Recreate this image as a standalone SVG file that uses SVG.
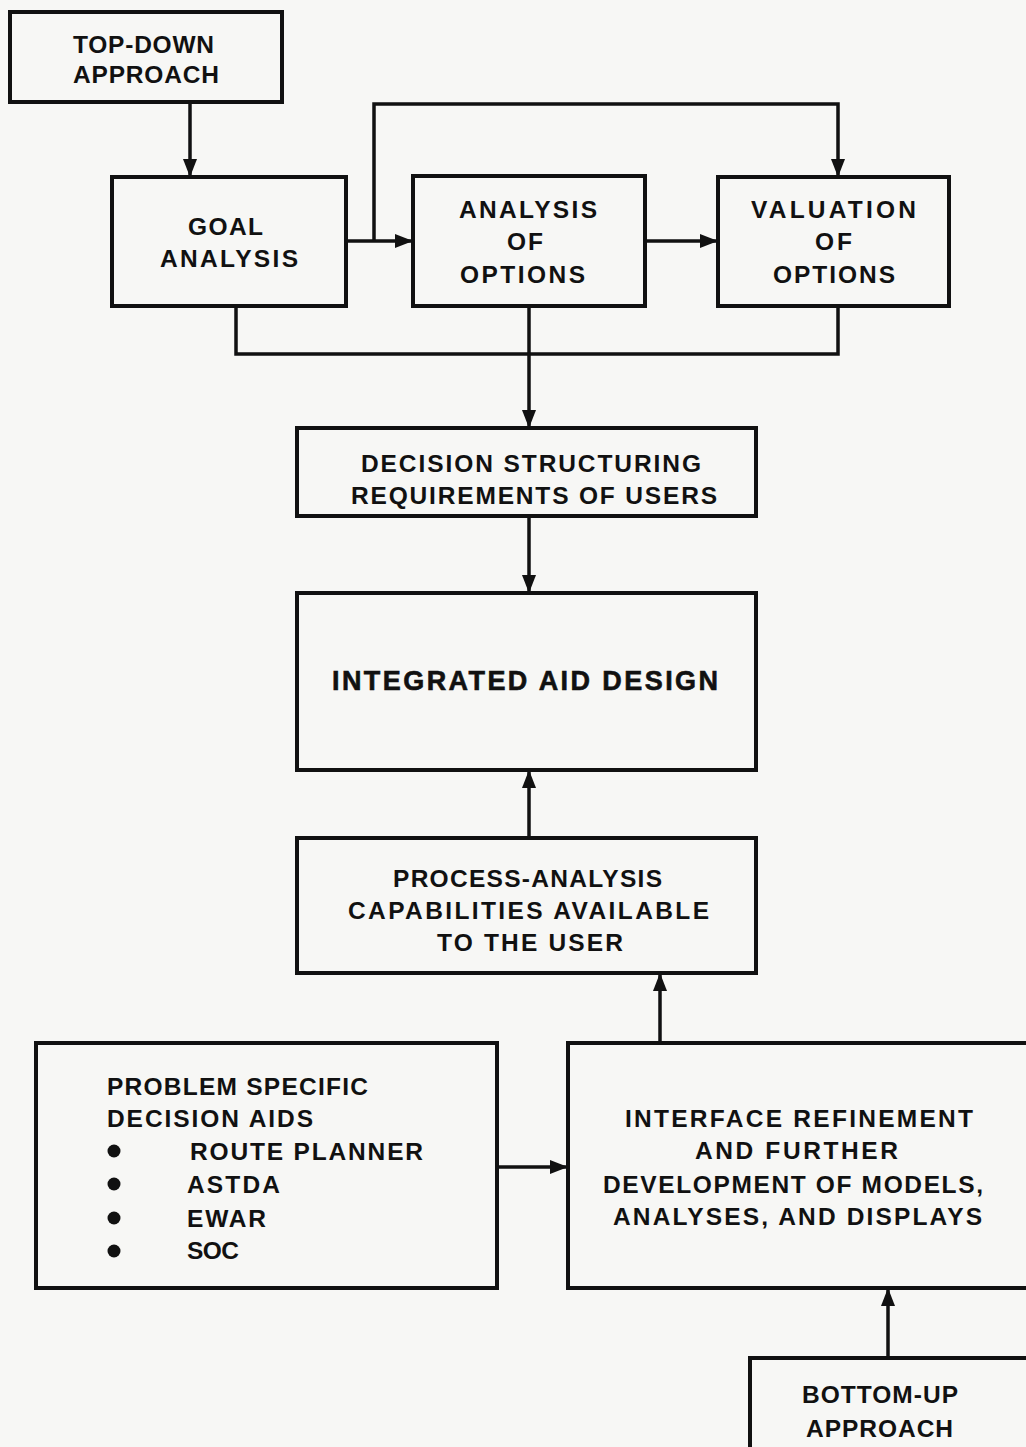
<svg xmlns="http://www.w3.org/2000/svg" width="1026" height="1447" viewBox="0 0 1026 1447">
<style>
.box{fill:none;stroke:#111;stroke-width:4}
.ln{fill:none;stroke:#111;stroke-width:3.5}
text{font-family:"Liberation Sans",Arial,sans-serif;font-weight:bold;font-size:24.5px;fill:#111}
</style>
<defs>
<marker id="ah" viewBox="0 0 18 14" refX="18" refY="7" markerWidth="18" markerHeight="14" markerUnits="userSpaceOnUse" orient="auto">
<path d="M0,0 L18,7 L0,14 Z" fill="#111"/>
</marker>
</defs>
<rect width="1026" height="1447" fill="#f7f7f5"/>
<g id="connectors">
<line class="ln" x1="190" y1="102" x2="190" y2="177" marker-end="url(#ah)"/>
<line class="ln" x1="346" y1="241" x2="413" y2="241" marker-end="url(#ah)"/>
<polyline class="ln" points="374,241 374,104 838,104 838,177" marker-end="url(#ah)"/>
<line class="ln" x1="645" y1="241" x2="718" y2="241" marker-end="url(#ah)"/>
<polyline class="ln" points="236,306 236,354 838,354 838,306"/>
<line class="ln" x1="529" y1="306" x2="529" y2="428" marker-end="url(#ah)"/>
<line class="ln" x1="529" y1="516" x2="529" y2="593" marker-end="url(#ah)"/>
<line class="ln" x1="529" y1="838" x2="529" y2="770" marker-end="url(#ah)"/>
<line class="ln" x1="660" y1="1043" x2="660" y2="973" marker-end="url(#ah)"/>
<line class="ln" x1="497" y1="1167" x2="568" y2="1167" marker-end="url(#ah)"/>
<line class="ln" x1="888" y1="1358" x2="888" y2="1288" marker-end="url(#ah)"/>
</g>
<g id="top-down">
<rect class="box" x="10" y="12" width="272" height="90"/>
<text x="73" y="53" textLength="141" lengthAdjust="spacing">TOP-DOWN</text>
<text x="73" y="83" textLength="146" lengthAdjust="spacing">APPROACH</text>
</g>
<g id="goal">
<rect class="box" x="112" y="177" width="234" height="129"/>
<text x="188" y="235" textLength="75" lengthAdjust="spacing">GOAL</text>
<text x="160" y="267" textLength="138" lengthAdjust="spacing">ANALYSIS</text>
</g>
<g id="analysis">
<rect class="box" x="413" y="176" width="232" height="130"/>
<text x="459" y="218" textLength="138" lengthAdjust="spacing">ANALYSIS</text>
<text x="507" y="250" textLength="36" lengthAdjust="spacing">OF</text>
<text x="460" y="283" textLength="125" lengthAdjust="spacing">OPTIONS</text>
</g>
<g id="valuation">
<rect class="box" x="718" y="177" width="231" height="129"/>
<text x="751" y="218" textLength="165" lengthAdjust="spacing">VALUATION</text>
<text x="815" y="250" textLength="37" lengthAdjust="spacing">OF</text>
<text x="773" y="283" textLength="122" lengthAdjust="spacing">OPTIONS</text>
</g>
<g id="decision">
<rect class="box" x="297" y="428" width="459" height="88"/>
<text x="361" y="472" textLength="340" lengthAdjust="spacing">DECISION STRUCTURING</text>
<text x="351" y="504" textLength="366" lengthAdjust="spacing">REQUIREMENTS OF USERS</text>
</g>
<g id="integrated">
<rect class="box" x="297" y="593" width="459" height="177"/>
<text x="332" y="690" textLength="386" lengthAdjust="spacing" style="font-size:27px;stroke:#111;stroke-width:0.6">INTEGRATED AID DESIGN</text>
</g>
<g id="process">
<rect class="box" x="297" y="838" width="459" height="135"/>
<text x="393" y="887" textLength="269" lengthAdjust="spacing">PROCESS-ANALYSIS</text>
<text x="348" y="919" textLength="361" lengthAdjust="spacing">CAPABILITIES AVAILABLE</text>
<text x="437" y="951" textLength="186" lengthAdjust="spacing">TO THE USER</text>
</g>
<g id="problem">
<rect class="box" x="36" y="1043" width="461" height="245"/>
<text x="107" y="1095" textLength="261" lengthAdjust="spacing">PROBLEM SPECIFIC</text>
<text x="107" y="1127" textLength="206" lengthAdjust="spacing">DECISION AIDS</text>
<circle cx="114" cy="1151" r="6.5" fill="#111"/>
<circle cx="114" cy="1184" r="6.5" fill="#111"/>
<circle cx="114" cy="1218" r="6.5" fill="#111"/>
<circle cx="114" cy="1251" r="6.5" fill="#111"/>
<text x="190" y="1160" textLength="233" lengthAdjust="spacing">ROUTE PLANNER</text>
<text x="187" y="1193" textLength="93" lengthAdjust="spacing">ASTDA</text>
<text x="187" y="1227" textLength="79" lengthAdjust="spacing">EWAR</text>
<text x="187" y="1259" textLength="52" lengthAdjust="spacing">SOC</text>
</g>
<g id="interface">
<rect class="box" x="568" y="1043" width="470" height="245"/>
<text x="625" y="1127" textLength="348" lengthAdjust="spacing">INTERFACE REFINEMENT</text>
<text x="695" y="1159" textLength="203" lengthAdjust="spacing">AND FURTHER</text>
<text x="603" y="1193" textLength="380" lengthAdjust="spacing">DEVELOPMENT OF MODELS,</text>
<text x="613" y="1225" textLength="369" lengthAdjust="spacing">ANALYSES, AND DISPLAYS</text>
</g>
<g id="bottom-up">
<rect class="box" x="750" y="1358" width="290" height="100"/>
<text x="802" y="1403" textLength="156" lengthAdjust="spacing">BOTTOM-UP</text>
<text x="806" y="1437" textLength="147" lengthAdjust="spacing">APPROACH</text>
</g>
</svg>
